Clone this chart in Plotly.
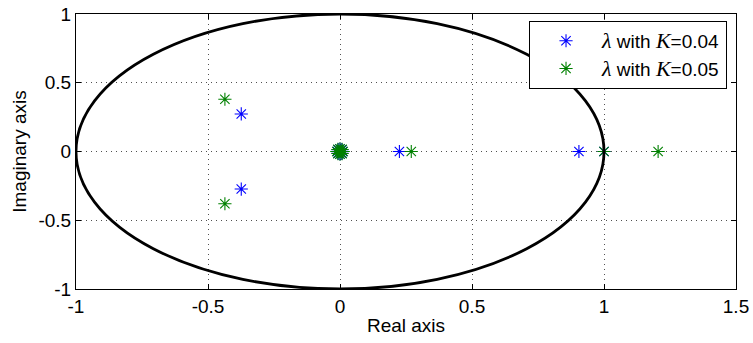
import plotly.graph_objects as go

# Eigenvalues (real, imaginary)
k04_re = [-0.374, -0.374, 0.225, 0.905, 1.0, 0.0, 0.010, -0.010, 0.0, 0.0, 0.007, -0.007, 0.007, -0.007]
k04_im = [0.273, -0.273, 0.0, 0.0, 0.0, 0.0, 0.0, 0.0, 0.018, -0.018, 0.013, 0.013, -0.013, -0.013]
k05_re = [-0.436, -0.436, 0.27, 1.0, 1.205, 0.0, 0.012, -0.012, 0.0, 0.0, 0.008, -0.008, 0.008, -0.008]
k05_im = [0.38, -0.38, 0.0, 0.0, 0.0, 0.0, 0.0, 0.0, 0.02, -0.02, 0.015, 0.015, -0.015, -0.015]

x_ticks = [-1, -0.5, 0, 0.5, 1, 1.5]
x_tick_labels = ["-1", "-0.5", "0", "0.5", "1", "1.5"]
y_ticks = [-1, -0.5, 0, 0.5, 1]
y_tick_labels = ["-1", "-0.5", "0", "0.5", "1"]

lam = '<span style="font-family:\'Liberation Serif\',serif;font-style:italic;font-size:22px">λ</span>'
kk = '<span style="font-family:\'Liberation Serif\',serif;font-style:italic;font-size:22px">K</span>'

FS = 19

fig = go.Figure()
fig.add_shape(type="circle", xref="x", yref="y", x0=-1, x1=1, y0=-1, y1=1,
              line=dict(color="black", width=2.8), layer="above")
fig.add_trace(go.Scatter(x=k04_re, y=k04_im, mode="markers", name=f"{lam} with {kk}=0.04",
                         marker=dict(symbol="asterisk-open", size=11, color="blue",
                                     line=dict(color="blue", width=1.1))))
fig.add_trace(go.Scatter(x=k05_re, y=k05_im, mode="markers", name=f"{lam} with {kk}=0.05",
                         marker=dict(symbol="asterisk-open", size=11, color="#008000",
                                     line=dict(color="#008000", width=1.1))))

axis_common = dict(showgrid=True, gridcolor="#505050", griddash="1px,4px", gridwidth=1,
                   zeroline=False, showline=True, linecolor="black", linewidth=1,
                   mirror="ticks", ticks="inside", ticklen=5, tickcolor="black",
                   tickfont=dict(size=FS, color="black"), automargin=False)

fig.update_xaxes(range=[-1, 1.5], tickvals=x_ticks, ticktext=x_tick_labels,
                 title=dict(text="Real axis", font=dict(size=FS, color="black"), standoff=2),
                 **axis_common)
fig.update_yaxes(range=[-1, 1], tickvals=y_ticks, ticktext=y_tick_labels,
                 title=dict(text="Imaginary axis", font=dict(size=FS, color="black"), standoff=6),
                 **axis_common)

fig.update_layout(
    width=753, height=343,
    margin=dict(l=76, r=17, t=14, b=54, autoexpand=False),
    paper_bgcolor="white", plot_bgcolor="white",
    font=dict(family="Liberation Sans, Arial, sans-serif", size=FS, color="black"),
    legend=dict(x=0.9864, y=0.975, xanchor="right", yanchor="top",
                bordercolor="black", borderwidth=1, bgcolor="white",
                font=dict(size=FS), itemwidth=62, tracegroupgap=0),
    showlegend=True,
)

fig.write_html("out.html", config={"displayModeBar": False},
               post_script="document.body.style.margin='0';document.body.style.overflow='hidden';")
